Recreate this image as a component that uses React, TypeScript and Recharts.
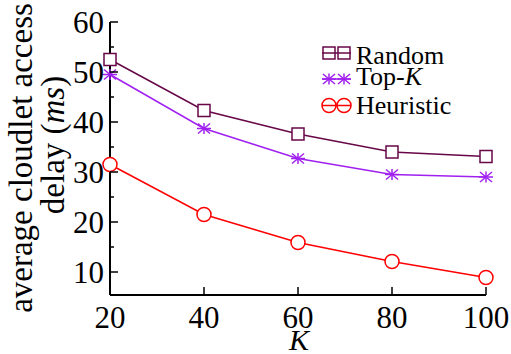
import { LineChart, Line, XAxis, YAxis, Legend, Customized } from 'recharts'

const kValues = [20, 40, 60, 80, 100]
const randomDelay = [52.5, 42.3, 37.6, 34.0, 33.1]
const topKDelay = [49.5, 38.7, 32.7, 29.5, 29.0]
const heuristicDelay = [31.5, 21.5, 15.9, 12.1, 8.9]

const xTicks = [20, 40, 60, 80, 100]
const yTicks = [10, 15, 20, 25, 30, 35, 40, 45, 50, 55, 60]
const yLabelled = [10, 20, 30, 40, 50, 60]
const yDomain = [5.4, 60]

const SERIF = "'Liberation Serif', 'DejaVu Serif', serif"
const AXIS = '#000'

const data = kValues.map((k, i) => ({
  k,
  random: randomDelay[i],
  topK: topKDelay[i],
  heuristic: heuristicDelay[i],
}))

function SquareMark({ cx, cy, color, fill = '#fff' }: any) {
  return <rect x={cx - 6} y={cy - 6} width={12} height={12} fill={fill} stroke={color} strokeWidth={1.5} />
}

function StarMark({ cx, cy, color }: any) {
  return (
    <g stroke={color} strokeWidth={1.5}>
      <line x1={cx} y1={cy - 5.5} x2={cx} y2={cy + 5.5} />
      <line x1={cx - 7} y1={cy} x2={cx + 7} y2={cy} />
      <line x1={cx - 6} y1={cy - 5} x2={cx + 6} y2={cy + 5} />
      <line x1={cx - 6} y1={cy + 5} x2={cx + 6} y2={cy - 5} />
    </g>
  )
}

function CircleMark({ cx, cy, color, fill = '#fff' }: any) {
  return <circle cx={cx} cy={cy} r={7} fill={fill} stroke={color} strokeWidth={1.5} />
}

const series = [
  { key: 'random', name: 'Random', color: '#670748', Mark: SquareMark },
  { key: 'topK', name: 'Top-', italic: 'K', color: '#a020f0', Mark: StarMark },
  { key: 'heuristic', name: 'Heuristic', color: '#ff0000', Mark: CircleMark },
]

// legend rows: marker centre and text baseline, relative to the legend box
const legendRows = [
  { markY: 15, textY: 26 },
  { markY: 41, textY: 47 },
  { markY: 67.5, textY: 76 },
]

function LegendBox() {
  return (
    <svg width={140} height={84} style={{ display: 'block' }}>
      {series.map((s, i) => {
        const { markY, textY } = legendRows[i]
        const Mark = s.Mark
        return (
          <g key={s.key}>
            <line x1={4} x2={33} y1={markY} y2={markY} stroke={s.color} strokeWidth={1.5} />
            <Mark cx={11} cy={markY} color={s.color} fill="none" />
            <Mark cx={26} cy={markY} color={s.color} fill="none" />
            <text x={38} y={textY} fontFamily={SERIF} fontSize={26} fill="#000">
              {s.name}
              {s.italic && <tspan fontStyle="italic">{s.italic}</tspan>}
            </text>
          </g>
        )
      })}
    </svg>
  )
}

function LeftTick({ x, y, payload }: any) {
  const major = yLabelled.includes(payload.value)
  return (
    <g>
      <line x1={x} x2={x + (major ? 8 : 4)} y1={y} y2={y} stroke={AXIS} strokeWidth={1.5} />
      {major && (
        <text x={x - 6} y={y + 11} textAnchor="end" fontFamily={SERIF} fontSize={31} fill="#000">
          {payload.value}
        </text>
      )}
    </g>
  )
}

function RightTick({ x, y, payload }: any) {
  const major = yLabelled.includes(payload.value)
  return <line x1={x} x2={x - (major ? 8 : 4)} y1={y} y2={y} stroke={AXIS} strokeWidth={1.5} />
}

function BottomTick({ x, y, payload }: any) {
  return (
    <g>
      <line x1={x} x2={x} y1={y} y2={y - 8} stroke={AXIS} strokeWidth={1.5} />
      <text x={x} y={y + 33} textAnchor="middle" fontFamily={SERIF} fontSize={31} fill="#000">
        {payload.value}
      </text>
    </g>
  )
}

function TopTick({ x, y }: any) {
  return <line x1={x} x2={x} y1={y} y2={y + 8} stroke={AXIS} strokeWidth={1.5} />
}

function AxisTitles() {
  return (
    <g fill="#000">
      <text transform="translate(32,158) rotate(-90)" textAnchor="middle" fontFamily={SERIF} fontSize={33}>
        average cloudlet access
      </text>
      <text transform="translate(64,145) rotate(-90)" textAnchor="middle" fontFamily={SERIF} fontSize={33}>
        delay (<tspan fontStyle="italic">ms</tspan>)
      </text>
      <text x={299} y={350} textAnchor="middle" fontFamily={SERIF} fontSize={30} fontStyle="italic">
        K
      </text>
    </g>
  )
}

export default function App() {
  return (
    <div style={{ position: 'absolute', left: 0, top: 0, background: '#fff', fontFamily: SERIF }}>
      <LineChart width={511} height={354} data={data} margin={{ top: 22, right: 25, bottom: 0, left: 0 }}>
        <XAxis
          dataKey="k"
          type="number"
          domain={[20, 100]}
          ticks={xTicks}
          interval={0}
          height={59}
          tickSize={0}
          tickMargin={0}
          tickLine={false}
          axisLine={{ stroke: AXIS, strokeWidth: 2 }}
          tick={BottomTick}
        />
        <XAxis
          xAxisId="top"
          orientation="top"
          dataKey="k"
          type="number"
          domain={[20, 100]}
          ticks={xTicks}
          interval={0}
          height={0}
          tickSize={0}
          tickMargin={0}
          tickLine={false}
          axisLine={{ stroke: AXIS, strokeWidth: 2 }}
          tick={TopTick}
        />
        <YAxis
          type="number"
          domain={yDomain}
          allowDataOverflow
          ticks={yTicks}
          interval={0}
          width={110}
          tickSize={0}
          tickMargin={0}
          tickLine={false}
          axisLine={{ stroke: AXIS, strokeWidth: 2 }}
          tick={LeftTick}
        />
        <YAxis
          yAxisId="right"
          orientation="right"
          type="number"
          domain={yDomain}
          allowDataOverflow
          ticks={yTicks}
          interval={0}
          width={0}
          tickSize={0}
          tickMargin={0}
          tickLine={false}
          axisLine={{ stroke: AXIS, strokeWidth: 2 }}
          tick={RightTick}
        />
        {series.map((s) => (
          <Line
            key={s.key}
            dataKey={s.key}
            stroke={s.color}
            strokeWidth={1.5}
            isAnimationActive={false}
            activeDot={false}
            dot={(p: any) => <s.Mark key={`${s.key}-${p.index}`} cx={p.cx} cy={p.cy} color={s.color} />}
          />
        ))}
        <Legend
          layout="horizontal"
          verticalAlign="middle"
          align="center"
          content={LegendBox}
          wrapperStyle={{ left: 318, top: 38, width: 140, height: 84 }}
        />
        <Customized component={AxisTitles} />
      </LineChart>
    </div>
  )
}
